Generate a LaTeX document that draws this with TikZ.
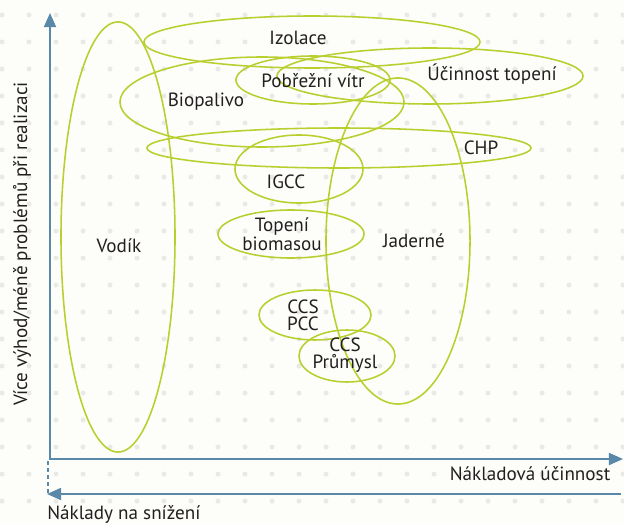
\documentclass[tikz,border=0pt]{standalone}
\usepackage{fontspec}
\setmainfont{PT Sans}
\usepackage{xcolor}
\usepackage{tikz}
\usetikzlibrary{shapes.geometric,arrows.meta}
\definecolor{leaf}{HTML}{B8CF2E}
\definecolor{axisblue}{HTML}{5A88A8}
\definecolor{ink}{HTML}{231F20}
\definecolor{paper}{HTML}{FDFDFA}
\definecolor{speck}{HTML}{E9E9E6}

\begin{document}
\begin{tikzpicture}[x=0.025cm, y=-0.025cm, >={Triangle[length=10pt, width=8.5pt]},
  zone/.style 2 args={draw=leaf, line width=1.1pt, ellipse, inner sep=0pt, minimum width=#1*0.05cm, minimum height=#2*0.05cm},
  tag/.style={text=ink, font=\fontsize{13.6}{12.2}\selectfont, align=center, inner sep=0pt},
  axis/.style={draw=axisblue, line width=1.4pt}]
\fill[paper] (0,0) rectangle (624,525);
\useasboundingbox (0,0) rectangle (624,525);
\foreach \x in {0,...,23} \foreach \y in {0,...,18} \fill[speck] (2+27*\x,15+27*\y) circle [radius=2.5];
\node[zone={57}{215}] (vodik) at (118,237) {};
\node[zone={168}{26}] (izolace) at (312,42) {};
\node[zone={142}{45}] (biopalivo) at (262,102) {};
\node[zone={77}{24}] (vitr) at (313,80) {};
\node[zone={153}{28}] (topeni) at (430,76) {};
\node[zone={192}{20}] (chp) at (339,148) {};
\node[zone={64}{34}] (igcc) at (299,169) {};
\node[zone={73}{24}] (biomasa) at (291,234) {};
\node[zone={72}{163}] (jaderne) at (398,241) {};
\node[zone={56}{25}] (pcc) at (315,315) {};
\node[zone={48}{26}] (prumysl) at (347,356) {};
\node[tag, anchor=base] (tizolace) at (298,45) {Izolace};
\node[tag, anchor=base] (tvitr) at (313,88) {Pobřežní vítr};
\node[tag, anchor=base] (ttopeni) at (492,81) {Účinnost topení};
\node[tag, anchor=base] (tbiopalivo) at (206,107) {Biopalivo};
\node[tag, anchor=base] (tchp) at (481,155) {CHP};
\node[tag, anchor=base] (tigcc) at (286,188) {IGCC};
\node[tag] (tbiomasa) at (282,234) {Topení\\biomasou};
\node[tag, anchor=base] (tjaderne) at (414,247) {Jaderné};
\node[tag, anchor=base] (tvodik) at (119,252) {Vodík};
\node[tag] (tpcc) at (303,315) {CCS\\PCC};
\node[tag] (tprumysl) at (345,355) {CCS\\Průmysl};
\coordinate (o) at (50,459);
\coordinate (ytop) at (50,13);
\coordinate (xend) at (623,459);
\coordinate (cr) at (621,494);
\coordinate (cl) at (47,494);
\coordinate (dtop) at (48,461);
\coordinate (dbot) at (48,493);
\draw[axis, <->] (ytop) -- (o) -- (xend);
\draw[axis, ->] (cr) -- (cl);
\draw[axis, line width=1pt, dash pattern=on 3pt off 2pt] (dtop) -- (dbot);
\node[tag, anchor=base] (teff) at (530,480) {Nákladová účinnost};
\node[tag, anchor=base west] (tcost) at (47,519) {Náklady na snížení};
\node[tag, anchor=base, rotate=90] (tbenefit) at (27,244) {Více výhod/méně problémů při realizaci};
\end{tikzpicture}
\end{document}
